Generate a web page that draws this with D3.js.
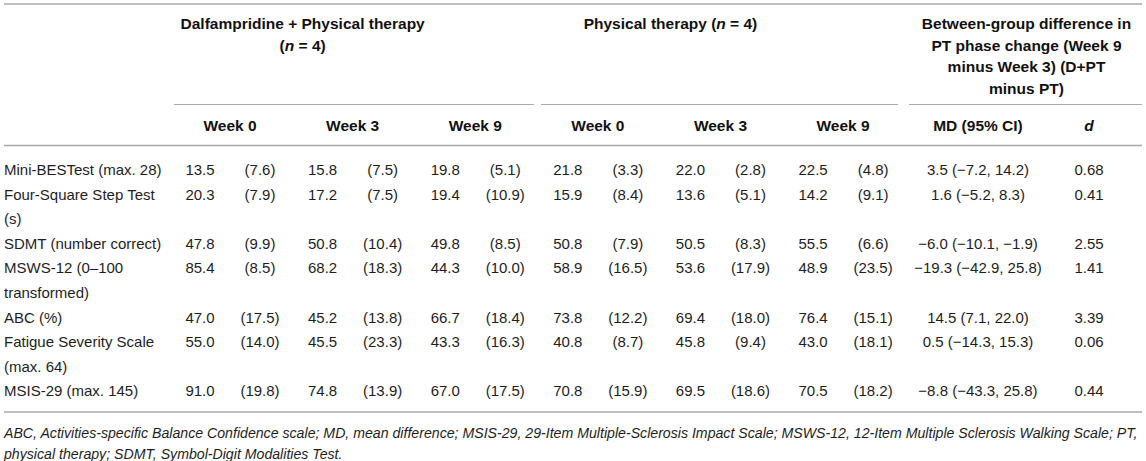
<!DOCTYPE html>
<html>
<head>
<meta charset="utf-8">
<script src="https://cdn.jsdelivr.net/npm/d3@7"></script>
<style>
  html, body { margin: 0; padding: 0; background: #fff; }
  svg { display: block; }
  text { font-family: "Liberation Sans", Arial, Helvetica, sans-serif; }
</style>
</head>
<body>
<svg id="chart" width="1146" height="461"></svg>
<script>
// ---------- data ----------
const measures = [
  ["Mini-BESTest (max. 28)"],
  ["Four-Square Step Test", "(s)"],
  ["SDMT (number correct)"],
  ["MSWS-12 (0\u2013100", "transformed)"],
  ["ABC (%)"],
  ["Fatigue Severity Scale", "(max. 64)"],
  ["MSIS-29 (max. 145)"]
];
const weeks = ["Week 0", "Week 3", "Week 9"];
const dptMeans = [
  [13.5, 15.8, 19.8], [20.3, 17.2, 19.4], [47.8, 50.8, 49.8], [85.4, 68.2, 44.3],
  [47.0, 45.2, 66.7], [55.0, 45.5, 43.3], [91.0, 74.8, 67.0]
];
const dptSDs = [
  [7.6, 7.5, 5.1], [7.9, 7.5, 10.9], [9.9, 10.4, 8.5], [8.5, 18.3, 10.0],
  [17.5, 13.8, 18.4], [14.0, 23.3, 16.3], [19.8, 13.9, 17.5]
];
const ptMeans = [
  [21.8, 22.0, 22.5], [15.9, 13.6, 14.2], [50.8, 50.5, 55.5], [58.9, 53.6, 48.9],
  [73.8, 69.4, 76.4], [40.8, 45.8, 43.0], [70.8, 69.5, 70.5]
];
const ptSDs = [
  [3.3, 2.8, 4.8], [8.4, 5.1, 9.1], [7.9, 8.3, 6.6], [16.5, 17.9, 23.5],
  [12.2, 18.0, 15.1], [8.7, 9.4, 18.1], [15.9, 18.6, 18.2]
];
const mdValues = [3.5, 1.6, -6.0, -19.3, 14.5, 0.5, -8.8];
const mdLower  = [-7.2, -5.2, -10.1, -42.9, 7.1, -14.3, -43.3];
const mdUpper  = [14.2, 8.3, -1.9, 25.8, 22.0, 15.3, 25.8];
const dValues  = [0.68, 0.41, 2.55, 1.41, 3.39, 0.06, 0.44];
const groupHeaders = [
  [["Dalfampridine + Physical therapy"], [["(", false], ["n", true], [" = 4)", false]]],
  [[["Physical therapy (", false], ["n", true], [" = 4)", false]]],
  [["Between-group difference in"], ["PT phase change (Week 9"], ["minus Week 3) (D+PT"], ["minus PT)"]]
];
const footnoteLines = [
  "ABC, Activities-specific Balance Confidence scale; MD, mean difference; MSIS-29, 29-Item Multiple-Sclerosis Impact Scale; MSWS-12, 12-Item Multiple Sclerosis Walking Scale; PT,",
  "physical therapy; SDMT, Symbol-Digit Modalities Test."
];

// ---------- layout ----------
const svg = d3.select("#chart");
const W = 1146;
const left = 4, right = 1142;
const fs = 15;
const ruleColor = "#a9a9a9";
const textColor = "#1e1e1e";

const weekCols = [];
["dpt", "pt"].forEach(g => weeks.forEach(w => weekCols.push(g + "|" + w)));
const x = d3.scaleBand().domain(weekCols).range([168.7, 904.4]);
const cx = k => x(k) + x.bandwidth() / 2;
const meanOff = -30, sdOff = 30;
const xMD = 978, xD = 1089;

// line index scale for body rows
const lineStarts = [];
let li = 0;
measures.forEach(m => { lineStarts.push(li); li += m.length; });
const y = d3.scaleLinear().domain([0, li - 1]).range([170, 391]);
const yHead = d3.scaleLinear().domain([0, 3]).range([24, 88.5]);

const fmt1 = d3.format(".1f");
const fmt2 = d3.format(".2f");
const minus = s => s.replace(/-/g, "\u2212");

// rules
function rule(x1, x2, yy, w) {
  svg.append("line").attr("x1", x1).attr("x2", x2).attr("y1", yy).attr("y2", yy)
    .attr("stroke", ruleColor).attr("stroke-width", w);
}
rule(left, right, 4, 1.4);
rule(174, 534, 104.5, 1.1);
rule(541, 898, 104.5, 1.1);
rule(909, right, 104.5, 1.1);
rule(left, right, 145.5, 1.4);
rule(left, right, 412, 1.4);

// group headers
const dptCenter = (x("dpt|Week 0") + x("dpt|Week 9") + x.bandwidth()) / 2;
const ptCenter = (x("pt|Week 0") + x("pt|Week 9") + x.bandwidth()) / 2;
const headCenters = [dptCenter - 50, ptCenter - 50, (909 + right) / 2 + 1];
groupHeaders.forEach((lines, gi) => {
  lines.forEach((parts, i) => {
    const t = svg.append("text").attr("x", headCenters[gi]).attr("y", yHead(i))
      .attr("dy", "0.35em").attr("text-anchor", "middle")
      .attr("font-size", 15.5).attr("font-weight", "bold").attr("fill", "#111");
    parts.forEach(p => {
      if (typeof p === "string") t.append("tspan").text(p);
      else t.append("tspan").attr("font-style", p[1] ? "italic" : "normal").text(p[0]);
    });
  });
});

// week sub headers
svg.selectAll("text.week").data(weekCols).join("text").attr("class", "week")
  .attr("x", d => cx(d)).attr("y", 125.5).attr("dy", "0.35em").attr("text-anchor", "middle")
  .attr("font-size", 15.5).attr("font-weight", "bold").attr("fill", "#111")
  .text(d => d.split("|")[1]);
svg.append("text").attr("x", xMD).attr("y", 125.5).attr("dy", "0.35em").attr("text-anchor", "middle")
  .attr("font-size", 15.5).attr("font-weight", "bold").attr("fill", "#111").text("MD (95% CI)");
svg.append("text").attr("x", xD).attr("y", 125.5).attr("dy", "0.35em").attr("text-anchor", "middle")
  .attr("font-size", 15.5).attr("font-weight", "bold").attr("font-style", "italic").attr("fill", "#111").text("d");

// body rows
measures.forEach((lines, r) => {
  const y0 = y(lineStarts[r]);
  lines.forEach((ln, i) => {
    svg.append("text").attr("x", left).attr("y", y(lineStarts[r] + i)).attr("dy", "0.35em")
      .attr("font-size", fs).attr("fill", textColor).text(ln);
  });
  const cells = [];
  weeks.forEach((w, j) => {
    cells.push({ x: cx("dpt|" + w) + meanOff, t: fmt1(dptMeans[r][j]) });
    cells.push({ x: cx("dpt|" + w) + sdOff, t: "(" + fmt1(dptSDs[r][j]) + ")" });
    cells.push({ x: cx("pt|" + w) + meanOff, t: fmt1(ptMeans[r][j]) });
    cells.push({ x: cx("pt|" + w) + sdOff, t: "(" + fmt1(ptSDs[r][j]) + ")" });
  });
  cells.push({ x: xMD, t: minus(fmt1(mdValues[r]) + " (" + fmt1(mdLower[r]) + ", " + fmt1(mdUpper[r]) + ")") });
  cells.push({ x: xD, t: fmt2(dValues[r]) });
  cells.forEach(c => {
    svg.append("text").attr("x", c.x).attr("y", y0).attr("dy", "0.35em").attr("text-anchor", "middle")
      .attr("font-size", fs).attr("fill", textColor).text(c.t);
  });
});

// footnote
const fnY = [433, 454];
const fn = footnoteLines.map((ln, i) => svg.append("text").attr("x", left).attr("y", fnY[i]).attr("dy", "0.35em")
  .attr("font-size", 14).attr("font-style", "italic").attr("fill", textColor).text(ln));
const len0 = fn[0].node().getComputedTextLength();
const fnSize = 14 * (1135 / len0);
fn.forEach(t => t.attr("font-size", fnSize));
</script>
</body>
</html>
